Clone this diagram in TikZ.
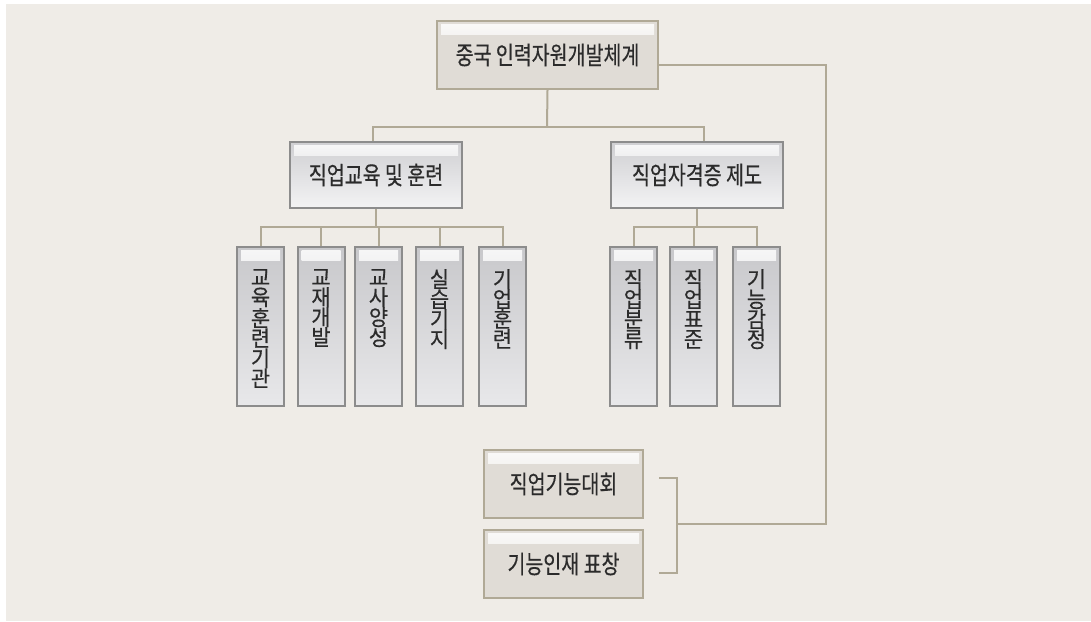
\documentclass[tikz,border=0pt]{standalone}
\usepackage{fontspec}
\newfontfamily\kr[FakeStretch=0.78,FakeBold=0.4]{Noto Sans CJK KR}
\newfontfamily\krv[FakeStretch=0.95,FakeBold=0.4]{Noto Sans CJK KR}
\definecolor{bg}{HTML}{EFECE7}
\definecolor{tan}{HTML}{B0A996}
\definecolor{tanfill}{HTML}{E0DCD6}
\definecolor{gborder}{HTML}{8C8C8C}
\definecolor{gtop}{HTML}{CFCFD2}
\definecolor{gbot}{HTML}{F3F3F4}
\definecolor{vtop}{HTML}{C8C8CB}
\definecolor{vbot}{HTML}{E8E8EA}
\definecolor{txt}{HTML}{2B2B2B}
\tikzset{
  conn/.style={draw=tan, line width=2pt},
  hl/.style={path picture={\shade[top color=white!85!#1, bottom color=#1]
      ([xshift=4pt,yshift=-3pt]path picture bounding box.north west) rectangle
      ([xshift=-4pt,yshift=-13pt]path picture bounding box.north east);}},
  tanbox/.style={draw=tan, line width=2pt, fill=tanfill, hl=tanfill,
      minimum width=221pt, minimum height=68pt, inner sep=0pt,
      font=\kr\fontsize{25}{26}\selectfont, text=txt},
  greybox/.style={draw=gborder, line width=2pt, top color=gtop, bottom color=gbot,
      hl=gtop, minimum width=172pt, minimum height=66pt, inner sep=0pt,
      font=\kr\fontsize{25}{26}\selectfont, text=txt},
  vbox/.style={draw=gborder, line width=2pt, top color=vtop, bottom color=vbot,
      hl=vtop, minimum width=47pt, minimum height=159pt, inner sep=0pt},
  vtext/.style={anchor=north, align=center, inner sep=0pt,
      font=\krv\fontsize{22}{20}\selectfont, text=txt},
}
\begin{document}
\begin{tikzpicture}[x=1pt,y=-1pt]
\useasboundingbox (0,0) rectangle (1091,621);
\fill[white] (0,0) rectangle (1091,621);
\fill[bg] (6,4) rectangle (1091,621);

% top
\node[tanbox] (T) at (547.5,55) {중국 인력자원개발체계};
% second level
\node[greybox] (L) at (376,175) {직업교육 및 훈련};
\node[greybox] (R) at (697,175) {직업자격증 제도};

% children left
\node[vbox] (a1) at (260.5,326.5) {};
\node[vbox] (a2) at (321,326.5) {};
\node[vbox] (a3) at (378.5,326.5) {};
\node[vbox] (a4) at (439.5,326.5) {};
\node[vbox] (a5) at (502.5,326.5) {};
% children right
\node[vbox] (b1) at (633.5,326.5) {};
\node[vbox] (b2) at (693.5,326.5) {};
\node[vbox] (b3) at (756.5,326.5) {};

\node[vtext] (ta1) at ([yshift=-23pt]a1.north) {교\\육\\훈\\련\\기\\관};
\node[vtext] (ta2) at ([yshift=-23pt]a2.north) {교\\재\\개\\발};
\node[vtext] (ta3) at ([yshift=-23pt]a3.north) {교\\사\\양\\성};
\node[vtext] (ta4) at ([yshift=-23pt]a4.north) {실\\습\\기\\지};
\node[vtext] (ta5) at ([yshift=-23pt]a5.north) {기\\업\\훈\\련};
\node[vtext] (tb1) at ([yshift=-23pt]b1.north) {직\\업\\분\\류};
\node[vtext] (tb2) at ([yshift=-23pt]b2.north) {직\\업\\표\\준};
\node[vtext] (tb3) at ([yshift=-23pt]b3.north) {기\\능\\감\\정};

% bottom boxes
\node[tanbox, minimum width=159pt] (C1) at (563.5,484) {직업기능대회};
\node[tanbox, minimum width=159pt] (C2) at (563.5,564) {기능인재 표창};

% connectors
\draw[conn] (T.south) -- (547,127) coordinate (m1);
\draw[conn] ([xshift=-3pt]L.north) |- (m1) -| ([xshift=7pt]R.north);
\draw[conn] (L.south) -- (376,227) coordinate (m2);
\foreach \c in {a1,a2,a3,a4,a5} { \draw[conn] (\c.north) |- (m2); }
\draw[conn] (R.south) -- (697,227) coordinate (m3);
\foreach \c in {b1,b2,b3} { \draw[conn] (\c.north) |- (m3); }

\coordinate (k1) at ([xshift=15pt,yshift=6pt]C1.east);
\coordinate (k2) at ([xshift=15pt,yshift=-9pt]C2.east);
\draw[conn] (k1) -- (677,478) -- (677,573) -- (k2);
\draw[conn] (677,524) -- (826,524) -- (826,65) -- ([yshift=-10pt]T.east);
\end{tikzpicture}
\end{document}
